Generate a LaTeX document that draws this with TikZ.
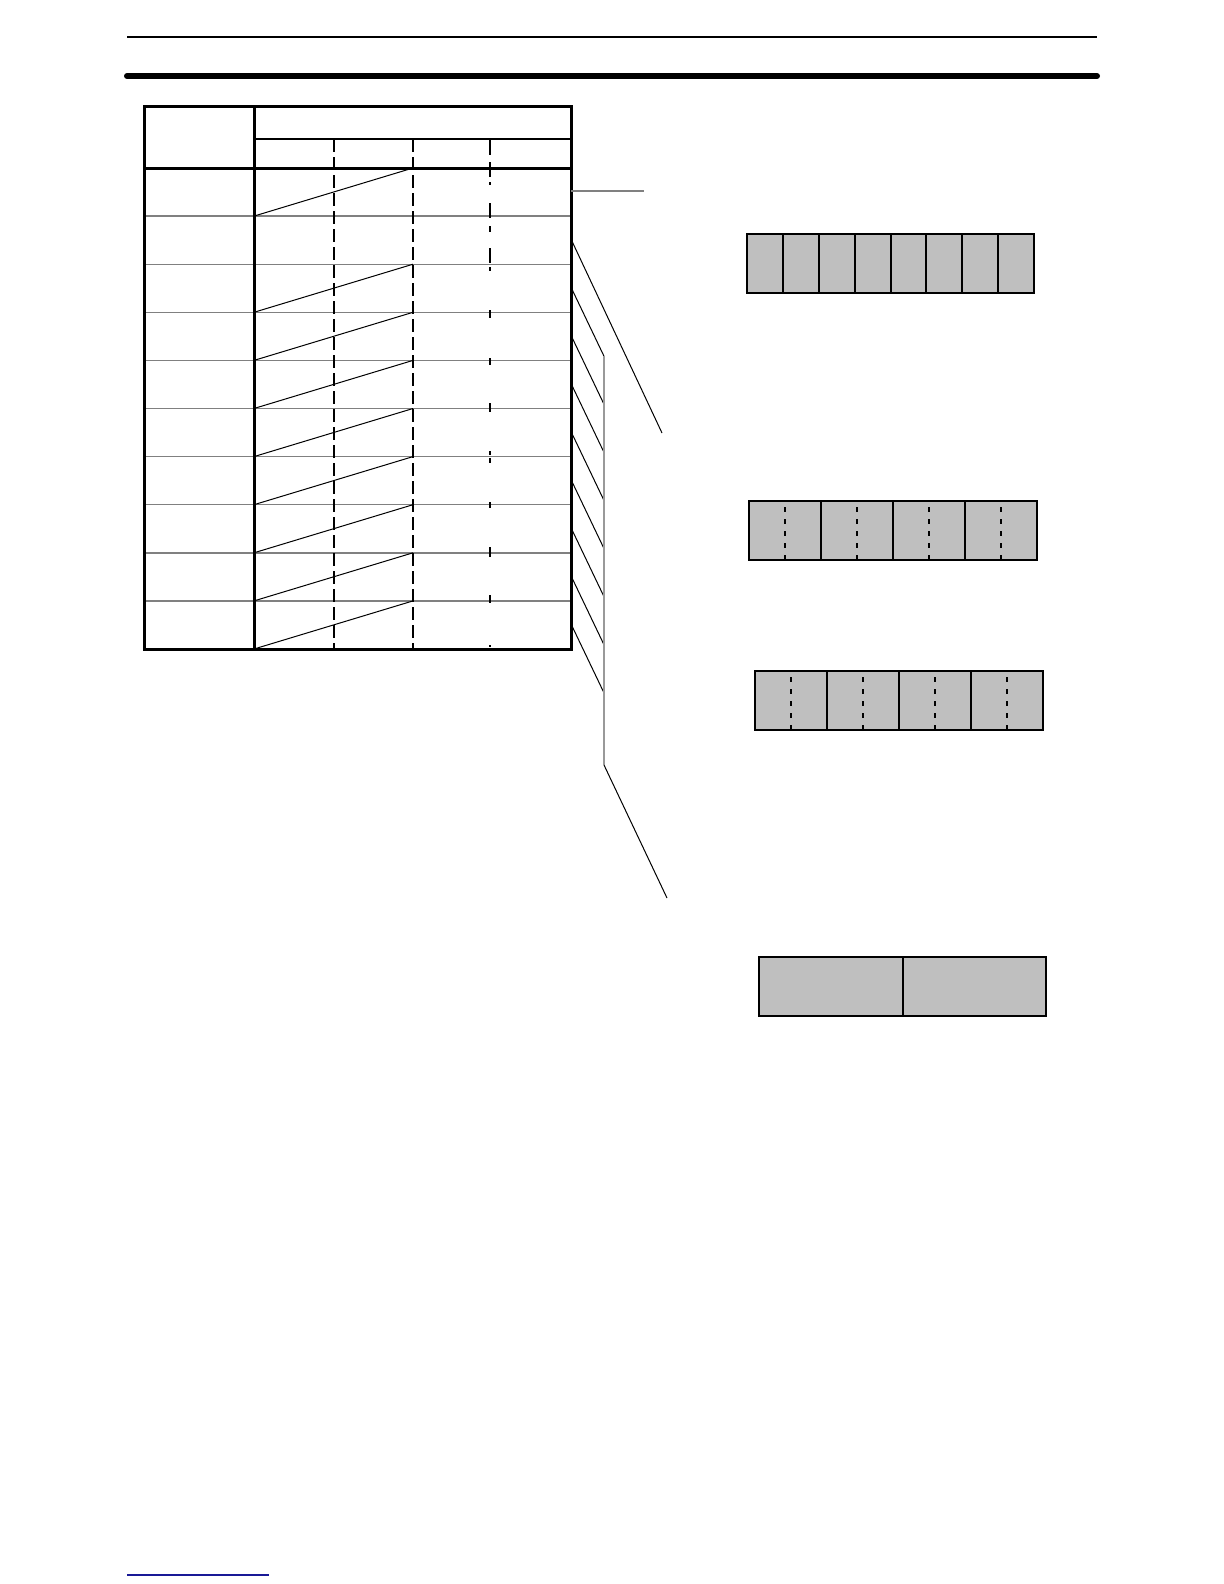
\documentclass[tikz,border=0pt]{standalone}
\usepackage{tikz}
\usetikzlibrary{calc}
\usepackage{xcolor}
\definecolor{linkblue}{RGB}{25,25,150}
\tikzset{
	frame line/.style={line width=1.5pt},
	thin rule/.style={line width=0.6pt},
	row line/.style={draw=black!50, line width=0.7pt},
	slope line/.style={line width=0.5pt},
	col dash/.style={line width=0.7pt, dash pattern=on 6.5pt off 2.5pt},
	lead line/.style={line width=0.5pt},
	bus line/.style={draw=black!40, line width=0.8pt},
	reg box/.style={draw=black, fill=black!25, line width=1pt},
	cell line/.style={line width=1pt},
	half line/.style={line width=0.6pt, dash pattern=on 2.5pt off 3.5pt, dash phase=3pt}
}
\def\RegBox#1#2#3#4#5#6{%
	\filldraw[reg box] (#1,#2) rectangle (#3,#4);
	\pgfmathsetmacro\cw{(#3-#1)/#5}
	\pgfmathtruncatemacro\cn{#5-1}
	\foreach \c in {1,...,\cn}
	\draw[cell line] (#1+\c*\cw,#2) -- (#1+\c*\cw,#4);
	\ifnum#6=1
	\foreach \c in {1,...,#5}
	\draw[half line] (#1+\c*\cw-\cw/2,#2) -- (#1+\c*\cw-\cw/2,#4);
	\fi
}
\begin{document}
\begin{tikzpicture}[x=0.5pt, y=-0.5pt]
\useasboundingbox (0,0) rectangle (1224,1584);

\draw[line width=1pt] (127,37) -- (1097,37);
\draw[line width=3pt, line cap=round] (127,76) -- (1097,76);

\foreach \r in {1,...,10} {
	\pgfmathsetmacro\rt{168+48.1*(\r-1)}
	\pgfmathsetmacro\rb{\rt+48.1}
	\coordinate (L\r) at (571,\rt+23);
	\coordinate (B\r) at (604,\rt+92);
	\ifnum\r<10 \draw[row line] (144,\rb) -- (571,\rb); \fi
	\ifnum\r=2 \else \draw[slope line] (254,\rb) -- (413,\rt); \fi
}
\foreach \x in {334,413}
\draw[col dash] (\x,139) -- (\x,649);
\foreach \a/\b in {140/155,162/177,182/185,203/218,226/232,248/263,267/271,310/318,358/365,403/412,451/455,458/463,502/508,547/557,595/603,645/647}
\draw[line width=0.7pt] (490,\a) -- (490,\b);

\draw[thin rule] (254,139) -- (571,139);
\draw[frame line] (144,168) -- (571,168);
\draw[frame line] (254,107) -- (254,649);
\draw[frame line] (144,107) rectangle (571,649);

\coordinate (E1) at (644,191);
\coordinate (E2) at (662,433);
\coordinate (T) at (604,765);
\coordinate (E3) at (667,898);
\draw[row line] (L1) -- (E1);
\draw[lead line] (L2) -- (E2);
\foreach \r in {3,...,10}
\draw[lead line] (L\r) -- (B\r);
\draw[bus line] (B3) -- (T);
\draw[lead line] (T) -- (E3);

\RegBox{747}{234}{1034}{293}{8}{0}
\RegBox{749}{501}{1037}{560}{4}{1}
\RegBox{755}{671}{1043}{730}{4}{1}
\RegBox{759}{957}{1046}{1016}{2}{0}

\draw[linkblue, line width=0.6pt] (127,1575) -- (269,1575);
\end{tikzpicture}
\end{document}
